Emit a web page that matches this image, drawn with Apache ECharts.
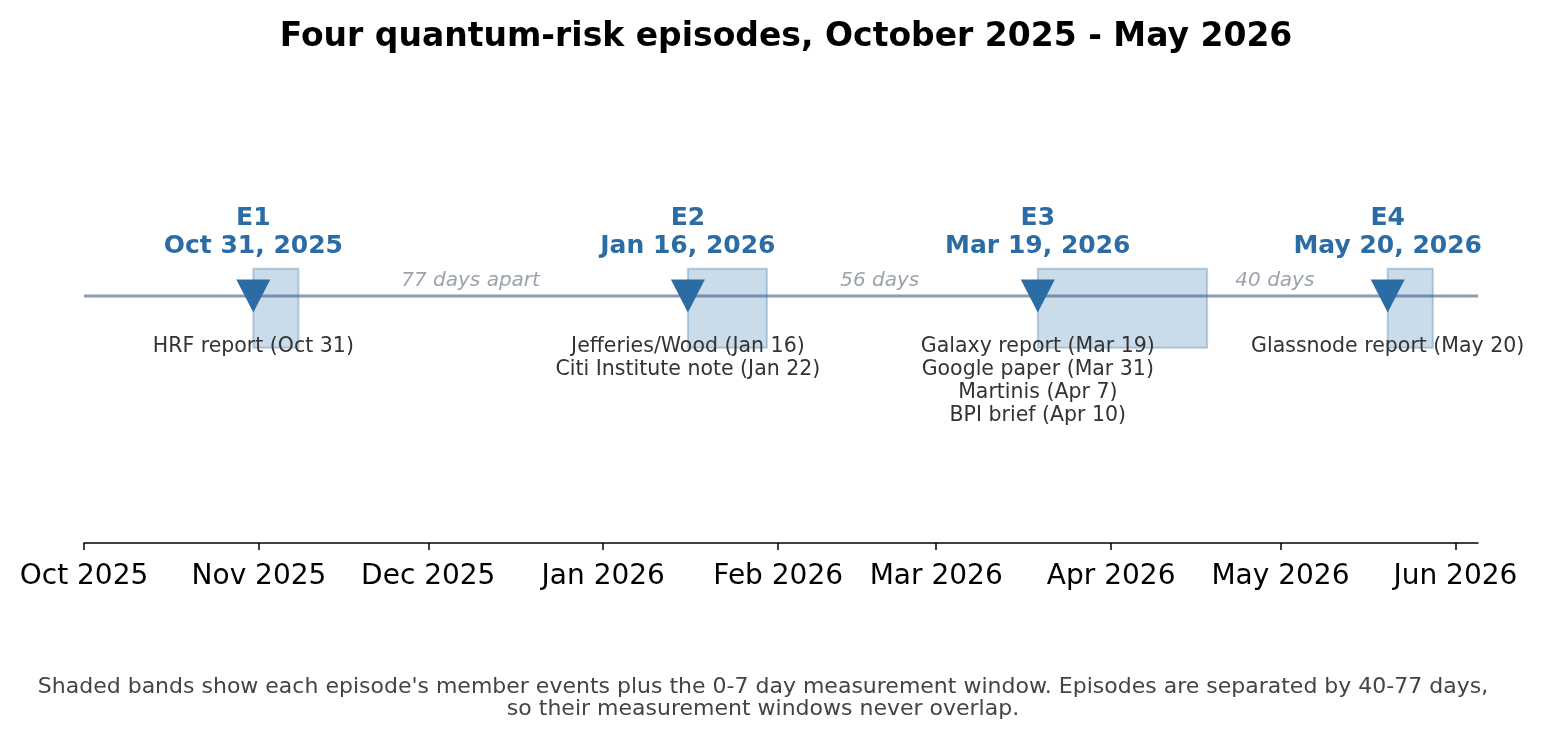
<!DOCTYPE html>
<html>
<head>
<meta charset="utf-8">
<title>Four quantum-risk episodes</title>
<script src="https://cdn.jsdelivr.net/npm/echarts@6/dist/echarts.min.js"></script>
<style>
  html, body { margin: 0; padding: 0; background: #fff; }
  #chart { width: 1545px; height: 739px; }
</style>
</head>
<body>
<div id="chart"></div>
<script>
// 数据
const monthTicks = ['2025-10-01', '2025-11-01', '2025-12-01', '2026-01-01', '2026-02-01',
                    '2026-03-01', '2026-04-01', '2026-05-01', '2026-06-01'];
const monthLabels = ['Oct 2025', 'Nov 2025', 'Dec 2025', 'Jan 2026', 'Feb 2026',
                     'Mar 2026', 'Apr 2026', 'May 2026', 'Jun 2026'];
const axisStart = '2025-10-01';
const axisEnd = '2026-06-05';

const episodeNames = ['E1', 'E2', 'E3', 'E4'];
const episodeDateLabels = ['Oct 31, 2025', 'Jan 16, 2026', 'Mar 19, 2026', 'May 20, 2026'];
const memberNames = [
    ['HRF report (Oct 31)'],
    ['Jefferies/Wood (Jan 16)', 'Citi Institute note (Jan 22)'],
    ['Galaxy report (Mar 19)', 'Google paper (Mar 31)', 'Martinis (Apr 7)', 'BPI brief (Apr 10)'],
    ['Glassnode report (May 20)']
];
const memberDates = [
    ['2025-10-31'],
    ['2026-01-16', '2026-01-22'],
    ['2026-03-19', '2026-03-31', '2026-04-07', '2026-04-10'],
    ['2026-05-20']
];
const gapLabels = ['77 days apart', '56 days', '40 days'];
const windowDays = 7; // 0-7 天测量窗口

const footnote = "Shaded bands show each episode's member events plus the 0-7 day measurement window. Episodes are separated by 40-77 days,\nso their measurement windows never overlap.";

// 版式常量
const FONT = 'DejaVu Sans';
const DAY = 86400000;
const BLUE = '#2c6ca4';
const BAND_LOW = -0.21, BAND_HIGH = 0.11;
const TOP_LABEL_Y = 0.142, MEMBER_LABEL_Y = -0.16, GAP_LABEL_Y = 0.062;

function utc(s) {
    const [y, m, d] = s.split('-').map(Number);
    return Date.UTC(y, m - 1, d);
}

const tickValues = monthTicks.map(utc);
const starts = memberDates.map(list => utc(list[0]));
const lasts = memberDates.map(list => utc(list[list.length - 1]));
const windowEnds = lasts.map(t => t + (windowDays + 1) * DAY);
const gapPositions = gapLabels.map((_, i) => (lasts[i] + starts[i + 1]) / 2);

const chart = echarts.init(document.getElementById('chart'));

chart.setOption({
    animation: false,
    textStyle: { fontFamily: FONT },
    title: [
        {
            // 标题居中于绘图区
            text: 'Four quantum-risk episodes, October 2025 - May 2026',
            left: 781, top: 16, textAlign: 'center',
            textStyle: { fontFamily: FONT, fontSize: 33, fontWeight: 'bold', color: '#000' }
        },
        {
            text: footnote,
            left: 758, top: 671, textAlign: 'center',
            textStyle: { fontFamily: FONT, fontSize: 22, fontWeight: 'normal', color: '#444', lineHeight: 22 }
        }
    ],
    grid: { left: 84, right: 67, top: 49, bottom: 196 },
    xAxis: {
        type: 'value',
        min: utc(axisStart),
        max: utc(axisEnd),
        splitLine: { show: false },
        axisLine: { onZero: false, lineStyle: { color: '#000', width: 1.5 } },
        axisTick: { customValues: tickValues, length: 7, lineStyle: { color: '#000', width: 1.5 } },
        axisLabel: {
            customValues: tickValues,
            margin: 20,
            fontSize: 28,
            fontFamily: FONT,
            color: '#000',
            formatter: v => monthLabels[tickValues.indexOf(v)] || ''
        }
    },
    yAxis: { type: 'value', min: -1, max: 1, show: false },
    series: [
        {
            // 时间线
            type: 'line',
            z: 1,
            silent: true,
            symbol: 'none',
            data: [[utc(axisStart), 0], [utc(axisEnd), 0]],
            lineStyle: { color: '#8e9bb0', width: 3 }
        },
        {
            // 阴影带
            type: 'custom',
            z: 2,
            silent: true,
            encode: { x: [0, 1], y: [2, 3] },
            data: starts.map((s, i) => [s, windowEnds[i], BAND_LOW, BAND_HIGH]),
            renderItem: (params, api) => {
                const p0 = api.coord([api.value(0), api.value(3)]);
                const p1 = api.coord([api.value(1), api.value(2)]);
                return {
                    type: 'rect',
                    shape: { x: p0[0], y: p0[1], width: p1[0] - p0[0], height: p1[1] - p0[1] },
                    style: { fill: 'rgba(44,111,168,0.25)', stroke: 'rgba(44,111,168,0.3)', lineWidth: 2 }
                };
            }
        },
        {
            // 起始标记
            type: 'scatter',
            z: 3,
            symbol: 'triangle',
            symbolRotate: 180,
            symbolSize: [34, 33],
            itemStyle: { color: BLUE, opacity: 1 },
            data: starts.map(s => [s, 0])
        },
        {
            // 编号与日期
            type: 'scatter',
            z: 4,
            symbolSize: 0,
            itemStyle: { opacity: 1 },
            data: starts.map((s, i) => ({ value: [s, TOP_LABEL_Y], name: episodeNames[i] + '\n' + episodeDateLabels[i] })),
            label: {
                show: true, position: 'top', distance: 0,
                formatter: p => p.name,
                fontFamily: FONT, fontSize: 25, fontWeight: 'bold', color: BLUE, lineHeight: 28, align: 'center'
            }
        },
        {
            // 成员事件
            type: 'scatter',
            z: 4,
            symbolSize: 0,
            itemStyle: { opacity: 1 },
            data: starts.map((s, i) => ({ value: [s, MEMBER_LABEL_Y], name: memberNames[i].join('\n') })),
            label: {
                show: true, position: 'bottom', distance: 0,
                formatter: p => p.name,
                fontFamily: FONT, fontSize: 20.5, color: '#333', lineHeight: 23, align: 'center'
            }
        },
        {
            // 间隔天数
            type: 'scatter',
            z: 4,
            symbolSize: 0,
            itemStyle: { opacity: 1 },
            data: gapPositions.map((g, i) => ({ value: [g, GAP_LABEL_Y], name: gapLabels[i] })),
            label: {
                show: true, position: 'inside',
                formatter: p => p.name,
                fontFamily: FONT, fontSize: 20, fontStyle: 'italic', color: '#9ca3af'
            }
        }
    ]
});
</script>
</body>
</html>
